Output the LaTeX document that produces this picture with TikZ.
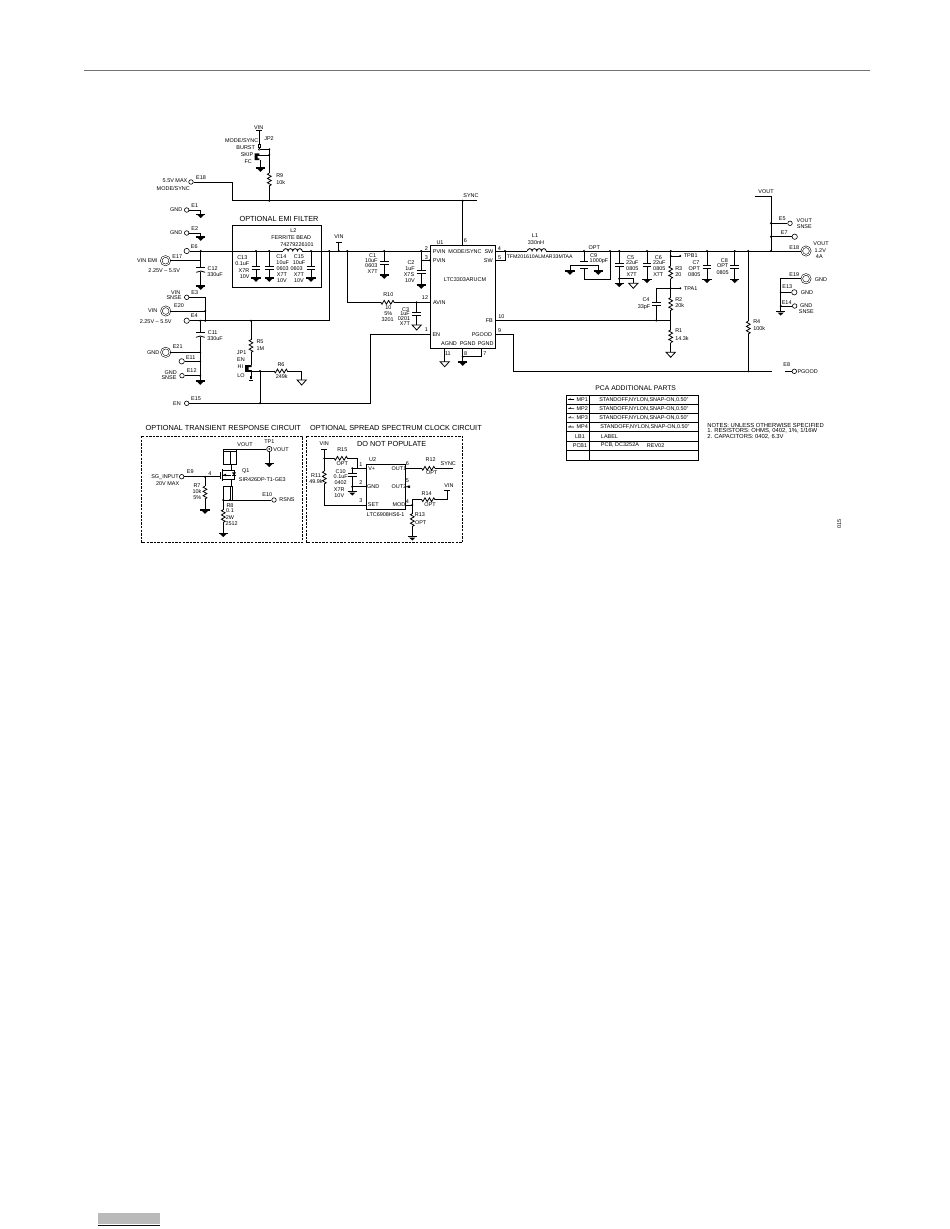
\documentclass[tikz,border=0pt]{standalone}
\usepackage{fontspec}
\setmainfont{Liberation Sans}
\tikzset{
  wire/.style={line width=0.6pt},
  lab/.style={inner sep=0pt,font=\fontsize{4.1}{4.6}\selectfont},
  labl/.style={lab,anchor=west},
  notel/.style={inner sep=0pt,anchor=west,font=\fontsize{4.4}{4.8}\selectfont},
  ttl/.style={inner sep=0pt,font=\fontsize{5.5}{6}\selectfont},
  ttlb/.style={inner sep=0pt,font=\fontsize{5.1}{6}\selectfont},
  term/.style={circle,draw,fill=white,line width=0.45pt,inner sep=0pt,minimum size=3.4pt},
  hterm/.style={term,minimum size=4pt,path picture={\fill (path picture bounding box.center) circle [radius=1.1];}},
  bterm/.style={circle,draw,fill=white,line width=0.4pt,double,double distance=0.75pt,inner sep=0pt,minimum size=6.4pt},
  dbox/.style={dash pattern=on 1.8pt off 0.9pt,line width=0.55pt},
  pics/resv/.style={code={
    \fill[white] (-2.5,-6.4) rectangle (2.5,6.4);
    \draw[wire] (0,-6.4) -- (1.9,-5.3) -- (-1.9,-3.2) -- (1.9,-1.1) -- (-1.9,1.1) -- (1.9,3.2) -- (-1.9,5.3) -- (0,6.4);}},
  pics/resh/.style={code={
    \fill[white] (-6.6,-2.5) rectangle (6.6,2.5);
    \draw[wire] (-6.6,0) -- (-5.5,-1.9) -- (-3.3,1.9) -- (-1.1,-1.9) -- (1.1,1.9) -- (3.3,-1.9) -- (5.5,1.9) -- (6.6,0);}},
  pics/capv/.style={code={
    \fill[white] (-4.4,-1.5) rectangle (4.4,1.5);
    \draw[wire,line width=0.7pt] (-4.4,-1.5) -- (4.4,-1.5) (-4.4,1.5) -- (4.4,1.5);}},
  pics/capp/.style={code={
    \fill[white] (-4.4,-2) rectangle (4.4,2);
    \draw[wire] (-4.4,2) -- (4.4,2);
    \draw[wire] (-4.4,-2.6) .. controls (-1.5,-0.9) and (1.5,-0.9) .. (4.4,-2.6);}},
  pics/indh/.style={code={
    \fill[white] (-9.4,3) rectangle (9.4,-0.8);
    \draw[wire] (-9.4,0) arc (180:0:2.35) arc (180:0:2.35) arc (180:0:2.35) arc (180:0:2.35);}},
  pics/gndb/.style={code={
    \draw[line width=0.8pt] (-4.6,0) -- (4.6,0);
    \fill (-3.1,-0.8) -- (3.1,-0.8) -- (0,-3.8) -- cycle;}},
  pics/gndo/.style={code={
    \draw[wire] (-4.6,0) -- (4.6,0) -- (0,-5) -- cycle;}},
  pics/tbar/.style={code={
    \draw[wire] (-3,0) -- (3,0);}},
}
\begin{document}
\begin{tikzpicture}[x=0.75pt,y=0.75pt,yscale=-1,xscale=1]
\useasboundingbox (0,0) rectangle (950,1229);

% page rule and footer
\coordinate (ruleA) at (84,70);
\coordinate (ruleB) at (870,70);
\draw [color=black!55,line width=0.7pt] (ruleA) -- (ruleB);
\fill [color=black!27] (97.7,1212.7) rectangle (160,1224.3);
\draw [color=blue!45!black,line width=0.6pt] (97.7,1225) -- (160,1225);

% terminals
\node [term] (E1) at (186.7,210) {};
\node [term] (E2) at (186.7,233) {};
\node [hterm] (E6) at (186.7,251) {};
\node [bterm] (E17) at (165.5,260.7) {};
\node [term] (E3) at (186.7,297.3) {};
\node [bterm] (E20) at (165.7,311) {};
\node [hterm] (E4) at (186.7,320.7) {};
\node [bterm] (E21) at (165.7,352.3) {};
\node [hterm] (E11) at (181.7,361.3) {};
\node [term] (E12) at (182,375.7) {};
\node [term] (E15) at (186.7,403.3) {};
\node [term] (E18a) at (191,182) {};
\node [term] (E5) at (790,223.3) {};
\node [hterm] (E7) at (794.7,236.7) {};
\node [bterm] (E18) at (806,251) {};
\node [bterm] (E19) at (806,278.7) {};
\node [hterm] (E13) at (794.3,292.3) {};
\node [term] (E14) at (794.7,306) {};
\node [term] (E8) at (794.3,371.3) {};
\node [term] (E9) at (181.7,476.7) {};
\node [term] (E10) at (274,500) {};
\node [hterm] (TP1) at (269.3,449) {};
\node [draw,line width=0.7pt,inner sep=0pt,minimum width=48.75pt,minimum height=77pt] (U1) at (462.5,297) {};
\node [draw,line width=0.7pt,inner sep=0pt,minimum width=29.2pt,minimum height=33.8pt] (U2) at (386.2,486.8) {};

% mode jumper
\coordinate (vinTop) at (259.3,130.7);
\coordinate (jpTwo) at (259.3,149.3);
\coordinate (jpEnd) at (269.3,149.3);
\coordinate (jpSkip) at (256,155);
\coordinate (jpSkipR) at (269.3,155);
\coordinate (jpGa) at (260.5,160);
\coordinate (jpGb) at (260.5,168);
\coordinate (syncLeft) at (269.3,200.7);
\coordinate (syncMid) at (232.3,200.7);
\coordinate (syncTap) at (462.7,200.7);
\coordinate (syncEnd) at (476.7,200.7);
\coordinate (u1p6) at (462.7,245.7);
\draw [wire] (vinTop) -- (jpTwo) -- (jpEnd) -- (syncLeft) (jpSkip) -- (jpSkipR) (jpGa) -- (jpGb);
\draw [wire] (E18a) -| (syncMid) -- (syncEnd) (syncTap) -- (u1p6);
\draw [fill=white,line width=0.4pt] (258.5,144) rectangle (260.5,147.4);
\fill (254.5,153.3) rectangle (257.6,160.2) (256,153.3) rectangle (259.4,155.2) (256,158.3) rectangle (259.4,160.2);
\pic at (vinTop) {tbar};
\pic at (jpGb) {gndb};
\pic at (269.3,179.5) {resv};

% input rails
\coordinate (u1p2) at (430,251);
\coordinate (u1p3) at (430,260.3);
\coordinate (u1p12) at (430,302.3);
\coordinate (u1p1) at (430,334.7);
\coordinate (railDrop) at (329.3,251);
\coordinate (railDropB) at (329.3,320.7);
\coordinate (teeRail) at (338.7,251);
\coordinate (teeTop) at (338.7,242.3);
\coordinate (avinRail) at (347.3,251);
\coordinate (avinBend) at (347.3,302.3);
\coordinate (e3Bend) at (205.3,297.3);
\coordinate (e3End) at (205.3,320.7);
\coordinate (e20End) at (205.3,311);
\coordinate (c11Top) at (200.3,320.7);
\coordinate (c11Bot) at (200.3,381);
\coordinate (c12Top) at (200.7,251);
\coordinate (c12Bot) at (200.7,286);
\coordinate (e17End) at (200.7,260.7);
\coordinate (e21End) at (200.3,352.3);
\coordinate (e11End) at (200.3,361.3);
\coordinate (e12End) at (200.3,375.7);
\coordinate (gndEa) at (200.7,214.3);
\coordinate (gndEb) at (200.7,237);
\draw [wire] (E6) -- (u1p2) (u1p3) -- (421.3,260.3);
\draw [wire] (E1) -| (gndEa) (E2) -| (gndEb);
\draw [wire] (E17) -- (e17End) (c12Top) -- (c12Bot);
\draw [wire] (E4) -- (railDropB) -- (railDrop) (teeRail) -- (teeTop);
\draw [wire] (avinRail) -- (avinBend) -- (u1p12);
\draw [wire] (E3) -- (e3Bend) -- (e3End) (E20) -- (e20End);
\draw [wire] (c11Top) -- (c11Bot) (E21) -- (e21End) (E11) -- (e11End) (E12) -- (e12End);
\pic at (gndEa) {gndb};
\pic at (gndEb) {gndb};
\pic at (c12Bot) {gndb};
\pic at (c11Bot) {gndb};
\pic at (teeTop) {tbar};
\pic at (200.7,269.7) {capp};
\pic at (200.3,334.7) {capp};

% emi filter
\draw [wire,line width=0.65pt] (232.3,225.3) rectangle (321.7,287.3);
\foreach \capx in {256,269.3,311} {
  \draw [wire] (\capx,251) -- (\capx,278);
  \pic at (\capx,267.5) {capv};
  \pic at (\capx,278) {gndb};
}
\pic at (292.8,251) {indh};

% en jumper
\coordinate (r5Top) at (251,320.7);
\coordinate (r5Bot) at (251,365);
\coordinate (enTap) at (260,371);
\coordinate (enLow) at (260,403.3);
\coordinate (enBend) at (370,403.3);
\coordinate (enUp) at (370,334.7);
\coordinate (r6Out) at (301.7,371);
\coordinate (r6Gnd) at (301.7,380);
\coordinate (jpEn) at (251,371);
\coordinate (jpLo) at (251,378);
\draw [wire] (r5Top) -- (r5Bot) (jpEn) -- (r6Out) -- (r6Gnd) (jpEn) -- (jpLo);
\draw [wire] (enTap) -- (enLow) (E15) -- (enBend) -- (enUp) -- (u1p1);
\fill (245,365.2) rectangle (248.6,371.8) (247,365.2) rectangle (251.6,367) (247,370) rectangle (251.6,371.8);
\fill (250,376.2) rectangle (252,378.6);
\pic at (251,346) {resv};
\pic at (280.8,371) {resh};
\pic at (r6Gnd) {gndo};
\draw [line width=0.7pt] (249,380.8) -- (253,380.8);

% regulator input side
\coordinate (c1Top) at (384.3,251);
\coordinate (c1Bot) at (384.3,275);
\coordinate (c2Top) at (421.3,251);
\coordinate (c2Bot) at (421.3,285);
\coordinate (c3Top) at (416.7,302.3);
\coordinate (c3Bot) at (416.7,325);
\coordinate (u1p11) at (444.7,348.3);
\coordinate (agndEnd) at (444.7,361.7);
\coordinate (u1p8) at (462.7,348.3);
\coordinate (pgndEnd) at (462.7,362);
\coordinate (u1p7) at (481.7,348.3);
\coordinate (pgndTie) at (481.7,356.7);
\coordinate (pgndTieL) at (462.7,356.7);
\draw [wire] (c1Top) -- (c1Bot) (c2Top) -- (c2Bot) (c3Top) -- (c3Bot);
\draw [wire] (u1p11) -- (agndEnd) (u1p8) -- (pgndEnd) (u1p7) -- (pgndTie) -- (pgndTieL);
\pic at (384.3,263) {capv};
\pic at (421.3,272.3) {capv};
\pic at (416.7,313.5) {capv};
\pic at (387.5,302.3) {resh};
\pic at (c1Bot) {gndb};
\pic at (c2Bot) {gndb};
\pic at (c3Bot) {gndo};
\pic at (agndEnd) {gndo};
\pic at (pgndEnd) {gndb};

% output side
\coordinate (u1p4) at (495,251);
\coordinate (u1p5) at (495,260.3);
\coordinate (swTie) at (505,251);
\coordinate (swTieB) at (505,260.3);
\coordinate (u1p10) at (495,320.5);
\coordinate (u1p9) at (495,334.7);
\coordinate (pgBend) at (513.3,334.7);
\coordinate (pgLow) at (513.3,371.3);
\coordinate (pgEnd) at (771.7,371.3);
\coordinate (e8Stub) at (785,371.3);
\draw [wire] (u1p4) -- (E18) (u1p5) -- (swTieB) -- (swTie);
\draw [wire] (u1p10) -- (670.7,320.5) (u1p9) -- (pgBend) -- (pgLow) -- (pgEnd) (e8Stub) -- (E8);
\pic at (536.8,251) {indh};
% three terminal cap
\coordinate (c9Top) at (584,251);
\coordinate (c9Up) at (584,261);
\coordinate (c9Dn) at (584,268.3);
\coordinate (c9Low) at (584,279);
\coordinate (c9Right) at (610,279);
\coordinate (c9Ret) at (610,251);
\coordinate (c9La) at (570,265.3);
\coordinate (c9Lb) at (570,271);
\coordinate (c9Ra) at (598.3,265.3);
\coordinate (c9Rb) at (598.3,271);
\draw [wire] (c9Top) -- (c9Up) (c9Dn) -- (c9Low) -- (c9Right) -- (c9Ret);
\draw [wire] (c9Lb) -- (c9La) -- (c9Ra) -- (c9Rb);
\draw [wire,line width=0.7pt] (579.7,261) -- (588.3,261) (579.7,268.3) -- (588.3,268.3);
\pic at (c9Lb) {gndb};
\pic at (c9Rb) {gndb};
% bulk caps
\coordinate (c5Top) at (619.3,251);
\coordinate (c5Bot) at (619.3,283.3);
\coordinate (c5Tap) at (619.3,278.7);
\coordinate (c5Bend) at (633.3,278.7);
\coordinate (c5Gnd) at (633.3,283.3);
\draw [wire] (c5Top) -- (c5Bot) (c5Tap) -- (c5Bend) -- (c5Gnd);
\pic at (619.3,264.5) {capv};
\pic at (c5Bot) {gndb};
\pic at (c5Gnd) {gndo};
\foreach \capx/\capy in {647/264.5,707/267.3,734.7/267.3} {
  \draw [wire] (\capx,251) -- (\capx,279.3);
  \pic at (\capx,\capy) {capv};
  \pic at (\capx,279.3) {gndb};
}
% feedback ladder
\coordinate (fbTop) at (670.7,251);
\coordinate (fbBot) at (670.7,352.3);
\coordinate (tpbA) at (670.7,256);
\coordinate (tpaA) at (670.7,288.3);
\coordinate (tpbB) at (680.3,256);
\coordinate (tpaB) at (680.3,288.3);
\coordinate (c4Top) at (656.3,288.3);
\coordinate (c4Bot) at (656.3,320.5);
\draw [wire] (fbTop) -- (fbBot) (tpbA) -- (tpbB) (tpaA) -- (tpaB) (tpaA) -- (c4Top) -- (c4Bot);
\pic at (670.7,272.3) {resv};
\pic at (670.7,304) {resv};
\pic at (670.7,336.3) {resv};
\pic at (656.3,304.3) {capv};
\pic at (fbBot) {gndo};
\coordinate (r4Top) at (748.3,251);
\draw [wire] (r4Top) -- (748.3,371.3);
\pic at (748.3,327.5) {resv};
% vout side
\coordinate (voutEnd) at (754.7,196.7);
\coordinate (voutBend) at (771,196.7);
\coordinate (voutRail) at (771,251);
\coordinate (gndBusT) at (780.7,278.7);
\coordinate (gndBusB) at (780.7,311.7);
\coordinate (e5Tap) at (771,223.3);
\coordinate (e7Tap) at (771,236.7);
\coordinate (e13Tap) at (780.7,292.3);
\coordinate (e14Tap) at (780.7,306);
\draw [wire] (voutEnd) -- (voutBend) -- (voutRail) (e5Tap) -- (E5) (e7Tap) -- (E7);
\draw [wire] (E19) -- (gndBusT) -- (gndBusB) (e13Tap) -- (E13) (e14Tap) -- (E14);
\pic at (gndBusB) {gndb};

% transient circuit
\draw [dbox] (141.7,436) rectangle (302.7,542.7);
\coordinate (voutTrA) at (223.3,449);
\coordinate (tpGnd) at (269.3,463.3);
\coordinate (gateTap) at (205,476.7);
\coordinate (gateEnd) at (220.3,476.7);
\coordinate (r7Gnd) at (205,510);
\coordinate (srcA) at (231,470);
\coordinate (srcB) at (231,479.3);
\coordinate (rsA) at (230,500);
\coordinate (r8Top) at (223.3,500);
\coordinate (r8Gnd) at (223.3,533.3);
\draw [wire] (voutTrA) -- (TP1) -- (tpGnd) (E9) -- (gateEnd) (gateTap) -- (r7Gnd);
\draw [wire] (r8Top) -- (E10) (r8Top) -- (r8Gnd);
\draw [wire] (223.3,449) -- (223.3,451.7) (236.7,449) -- (236.7,451.7);
\draw [line width=0.45pt] (223.3,451.7) rectangle (236.7,464.3) (230,451.7) -- (230,464.3);
\draw [wire] (231,464.3) -- (srcA) -- (222.3,470) (222.3,479.3) -- (srcB) -- (231,486);
\draw [line width=0.8pt] (220.3,472) -- (220.3,479.3) (222.3,469) -- (222.3,480.5);
\draw [wire] (231,470) -- (234,470) -- (234,479.3) -- (231,479.3);
\fill (234,475.5) -- (232,472.3) -- (236,472.3) -- cycle;
\draw [line width=0.4pt] (232,475.5) -- (236,475.5);
\fill (223,475) -- (226,473.7) -- (226,476.3) -- cycle;
\draw [line width=0.45pt] (223,475) -- (231,475);
\draw [line width=0.45pt] (223.3,486) rectangle (232.7,500) (230,486) -- (230,500);
\pic at (205,492.5) {resv};
\pic at (223.3,516) {resv};
\pic at (tpGnd) {gndb};
\pic at (r7Gnd) {gndb};
\pic at (r8Gnd) {gndb};

% spread spectrum circuit
\draw [dbox] (306.7,436) rectangle (462.3,542.7);
\coordinate (vinSsA) at (324.3,449);
\coordinate (vinSsB) at (324.3,505);
\coordinate (r15L) at (324.3,458.3);
\coordinate (r15R) at (357.3,458.3);
\coordinate (u2p1) at (366.7,468.3);
\coordinate (u2p2) at (366.7,486.7);
\coordinate (u2p3) at (366.7,505);
\coordinate (c10Top) at (352.3,468.3);
\coordinate (c10Bot) at (352.3,491.7);
\coordinate (c10Tap) at (352.3,486.7);
\coordinate (u2p6) at (405.7,468.3);
\coordinate (u2p5) at (405.7,486.7);
\coordinate (u2p4) at (405.7,505);
\coordinate (syncSs) at (453.3,468.3);
\coordinate (modA) at (412.3,505);
\coordinate (modB) at (412.3,499.7);
\coordinate (modC) at (447.3,499.7);
\coordinate (modD) at (447.3,490.7);
\coordinate (r13Gnd) at (412.3,536.7);
\draw [wire] (vinSsA) -- (vinSsB) -- (u2p3) (r15L) -- (r15R) -- (357.3,468.3) (c10Top) -- (u2p1);
\draw [wire] (c10Top) -- (c10Bot) (c10Tap) -- (u2p2);
\draw [wire] (u2p6) -- (syncSs) (u2p4) -- (modA) -- (modB) -- (modC) -- (modD) (modA) -- (r13Gnd);
\draw [wire] (u2p5) -- (409,486.7) (408,485.7) -- (410,487.7) (408,487.7) -- (410,485.7);
\pic at (vinSsA) {tbar};
\pic at (modD) {tbar};
\pic at (340.8,458.3) {resh};
\pic at (324.3,477.5) {resv};
\pic at (352.3,475) {capv};
\pic at (428.3,468.3) {resh};
\pic at (428.3,499.7) {resh};
\pic at (412.3,520) {resv};
\pic at (c10Bot) {gndb};
\pic at (r13Gnd) {gndb};

% junction dots
\foreach \jn in {c12Top,railDrop,teeRail,avinRail,c1Top,c2Top,c3Top,syncTap,jpEnd,jpSkipR,syncLeft,
  e3End,e20End,c11Top,e21End,e11End,e12End,r5Top,enTap,enLow,swTie,c9Top,c9Ret,c5Top,fbTop,tpbA,tpaA,c4Bot,
  r4Top,voutRail,e5Tap,e7Tap,e13Tap,e14Tap,c5Tap,gateTap,r15L,c10Top,c10Tap,modA,pgndTieL,rsA,tpbB,tpaB,u1p3,
  r8Top} {
  \fill (\jn) circle [radius=1.1];
}
\fill (256,251) circle [radius=1.1] (269.3,251) circle [radius=1.1] (311,251) circle [radius=1.1];
\fill (647,251) circle [radius=1.1] (707,251) circle [radius=1.1] (734.7,251) circle [radius=1.1];
\fill (748.3,371.3) circle [radius=1.1] (jpEn) circle [radius=1.1] (TP1) circle [radius=0.9];
\draw [wire,fill=white,line width=0.35pt] (jpTwo) circle [radius=1];

% text of top left
\node [lab] (tVinA) at (258.7,127.4) {VIN};
\node [lab] (tJp2) at (269,139) {JP2};
\node [lab] (tModeA) at (241.7,140.7) {MODE/SYNC};
\node [lab] (tBurst) at (245.7,147.3) {BURST};
\node [lab] (tSkip) at (247,154.3) {SKIP};
\node [lab] (tFc) at (248.3,161.3) {FC};
\node [labl] (tR9) at (276,175.7) {R9};
\node [labl] (tR9v) at (276,183) {10k};
\node [lab] (tMax) at (175,181) {5.5V MAX};
\node [lab] (tModeB) at (173.3,188.3) {MODE/SYNC};
\node [lab] (tE18a) at (201,177.7) {E18};
\node [lab] (tGndA) at (176.3,210) {GND};
\node [lab] (tE1) at (194.7,205.7) {E1};
\node [lab] (tGndB) at (176.3,233) {GND};
\node [lab] (tE2) at (194.7,229) {E2};
\node [lab] (tE6) at (194.3,247) {E6};
\node [lab] (tVinEmi) at (147.3,260.7) {VIN EMI};
\node [lab] (tE17) at (177.3,256.7) {E17};
\node [lab] (tRangeA) at (164.3,271) {2.25V – 5.5V};
\node [lab] (tC12) at (212.7,268.3) {C12};
\node [lab] (tC12v) at (215,274.7) {330uF};
\node [lab] (tVinB) at (175.7,292.3) {VIN};
\node [lab] (tSnseA) at (174,297.3) {SNSE};
\node [lab] (tE3) at (194.7,292.7) {E3};
\node [lab] (tVinC) at (152.7,311) {VIN};
\node [lab] (tE20) at (179,306) {E20};
\node [lab] (tE4) at (194.3,315.7) {E4};
\node [lab] (tRangeB) at (155.7,322) {2.25V – 5.5V};
\node [lab] (tC11) at (212.7,332.7) {C11};
\node [lab] (tC11v) at (215,339) {330uF};
\node [lab] (tGndC) at (153.3,352.3) {GND};
\node [lab] (tE21) at (177.7,346.7) {E21};
\node [lab] (tE11) at (190.7,357.7) {E11};
\node [lab] (tGndD) at (170.7,372.3) {GND};
\node [lab] (tSnseB) at (169,377.7) {SNSE};
\node [lab] (tE12) at (191.7,370.7) {E12};
\node [lab] (tEnA) at (177,403.3) {EN};
\node [lab] (tE15) at (196,399) {E15};
\node [lab] (tR5) at (260,341.7) {R5};
\node [lab] (tR5v) at (260.3,349) {1M};
\node [lab] (tJp1) at (241.7,353) {JP1};
\node [lab] (tEnB) at (241,359.3) {EN};
\node [lab] (tHi) at (240.3,367) {HI};
\node [lab] (tLo) at (241,375.7) {LO};
\node [lab] (tR6) at (281,364.7) {R6};
\node [lab] (tR6v) at (281.7,377) {249k};

% emi filter text
\node [ttl] (tEmi) at (279,219) {OPTIONAL EMI FILTER};
\node [lab] (tL2) at (293.3,230.7) {L2};
\node [lab] (tBead) at (291.3,237.7) {FERRITE BEAD};
\node [lab] (tBeadN) at (297,244.7) {74279226101};
\node [lab] (tC13) at (242.3,257.3) {C13};
\node [lab] (tC13v) at (242.3,263.3) {0.1uF};
\node [lab] (tC13t) at (244,270.7) {X7R};
\node [lab] (tC13u) at (244.7,276.7) {10V};
\node [lab] (tC14) at (281.3,256.7) {C14};
\node [lab] (tC14v) at (282.7,262.7) {10uF};
\node [lab] (tC14s) at (282.7,269) {0603};
\node [lab] (tC14t) at (282,274.7) {X7T};
\node [lab] (tC14u) at (282,280.3) {10V};
\node [lab] (tC15) at (299,256.3) {C15};
\node [lab] (tC15v) at (299,262.3) {10uF};
\node [lab] (tC15s) at (296.7,269) {0603};
\node [lab] (tC15t) at (299,274.7) {X7T};
\node [lab] (tC15u) at (299,280.3) {10V};
\node [lab] (tVinD) at (339,237) {VIN};

% regulator text
\node [lab] (tSyncA) at (471,195.3) {SYNC};
\node [lab] (tU1) at (440,243) {U1};
\node [lab] (tP6) at (465.3,240.3) {6};
\node [lab] (tP2) at (426.3,248.3) {2};
\node [lab] (tP3) at (426.3,257.3) {3};
\node [lab] (tPvinA) at (439.3,252) {PVIN};
\node [lab] (tPvinB) at (439.3,261) {PVIN};
\node [lab] (tModeC) at (465,252) {MODE/SYNC};
\node [lab] (tSwA) at (489,252) {SW};
\node [lab] (tSwB) at (488.3,261) {SW};
\node [lab] (tPart) at (465,280) {LTC3303ARUCM};
\node [lab] (tP12) at (425,297.3) {12};
\node [lab] (tAvin) at (439.3,302.3) {AVIN};
\node [lab] (tFb) at (489.3,320.7) {FB};
\node [lab] (tP10) at (501.3,317) {10};
\node [lab] (tP1) at (426.3,330) {1};
\node [lab] (tEnC) at (436.3,334.7) {EN};
\node [lab] (tPgood) at (482,334.7) {PGOOD};
\node [lab] (tP9) at (499.7,330.3) {9};
\node [lab] (tAgnd) at (449,343.7) {AGND};
\node [lab] (tPgndA) at (467.7,343.7) {PGND};
\node [lab] (tPgndB) at (485.7,343.7) {PGND};
\node [lab] (tP11) at (447.9,354) {11};
\node [lab] (tP8) at (465.7,353.3) {8};
\node [lab] (tP7) at (485,354) {7};
\node [lab] (tP4) at (499.3,248.3) {4};
\node [lab] (tP5) at (499.7,257.3) {5};
\node [lab] (tC1) at (372.7,256) {C1};
\node [lab] (tC1v) at (371.3,261) {10uF};
\node [lab] (tC1s) at (371.3,266) {0603};
\node [lab] (tC1t) at (372.7,271.7) {X7T};
\node [lab] (tC2) at (411,262.7) {C2};
\node [lab] (tC2v) at (410,268.7) {1uF};
\node [lab] (tC2t) at (409,275) {X7S};
\node [lab] (tC2u) at (410,281) {10V};
\node [lab] (tR10) at (388.3,294.7) {R10};
\node [lab] (tR10v) at (388.3,308) {10};
\node [lab] (tR10p) at (388.3,313.7) {5\%};
\node [lab] (tR10s) at (387.7,320) {3201};
\node [lab] (tC3) at (405.7,309.3) {C3};
\node [lab] (tC3v) at (405,314) {1uF};
\node [lab] (tC3s) at (404,319) {0201};
\node [lab] (tC3t) at (405,324) {X7T};

% output text
\node [lab] (tL1) at (535,235.7) {L1};
\node [lab] (tL1v) at (536,243) {330nH};
\node [lab,font=\fontsize{3.9}{4.6}\selectfont] (tL1p) at (539.7,257) {TFM201610ALMAR33MTAA};
\node [lab] (tOpt) at (594.3,248) {OPT};
\node [lab] (tC9) at (593.7,255.7) {C9};
\node [lab] (tC9v) at (599,261) {1000pF};
\node [lab] (tC5) at (630.7,257.7) {C5};
\node [lab] (tC5v) at (632.3,262.7) {22uF};
\node [lab] (tC5s) at (632.3,269) {0805};
\node [lab] (tC5t) at (631.7,274.7) {X7T};
\node [lab] (tC6) at (658.3,257.7) {C6};
\node [lab] (tC6v) at (659.3,262.7) {22uF};
\node [lab] (tC6s) at (659.3,269) {0805};
\node [lab] (tC6t) at (658.3,274.7) {X7T};
\node [lab] (tTpb) at (690.7,256) {TPB1};
\node [lab] (tTpa) at (690.7,288.7) {TPA1};
\node [labl] (tR3) at (675,268.3) {R3};
\node [labl] (tR3v) at (675,275) {20};
\node [labl] (tR2) at (675,299.7) {R2};
\node [labl] (tR2v) at (675,305.3) {20k};
\node [labl] (tR1) at (675,330.7) {R1};
\node [labl] (tR1v) at (675,338.3) {14.3k};
\node [lab] (tC4) at (646,299.3) {C4};
\node [lab] (tC4v) at (644,307) {33pF};
\node [lab] (tC7) at (696,262.7) {C7};
\node [lab] (tC7v) at (694.3,268.3) {OPT};
\node [lab] (tC7s) at (694.3,274.3) {0805};
\node [lab] (tC8) at (724.3,260.7) {C8};
\node [lab] (tC8v) at (722.7,266) {OPT};
\node [lab] (tC8s) at (722.7,272.7) {0805};
\node [labl] (tR4) at (753,321.3) {R4};
\node [labl] (tR4v) at (753,329) {100k};
\node [lab] (tVoutA) at (766,191.7) {VOUT};
\node [lab] (tE5) at (782.3,219) {E5};
\node [lab] (tVoutB) at (804.3,220.7) {VOUT};
\node [lab] (tSnseC) at (804.3,226.7) {SNSE};
\node [lab] (tE7) at (784.3,232.3) {E7};
\node [lab] (tE18) at (794.3,247.7) {E18};
\node [lab] (tVoutC) at (821,244) {VOUT};
\node [lab] (tV12) at (820.3,250.7) {1.2V};
\node [lab] (tAmps) at (819.3,256.7) {4A};
\node [lab] (tE19) at (794.3,275) {E19};
\node [lab] (tGndE) at (821,279.3) {GND};
\node [lab] (tE13) at (787.3,286.7) {E13};
\node [lab] (tGndF) at (807,292.3) {GND};
\node [lab] (tE14) at (786.7,302.3) {E14};
\node [lab] (tGndG) at (806.3,306) {GND};
\node [lab] (tSnseD) at (806.3,311.7) {SNSE};
\node [lab] (tE8) at (786.7,365) {E8};
\node [lab] (tPgoodB) at (807.7,371.3) {PGOOD};

% transient text
\node [ttl] (tTrans) at (223.3,428) {OPTIONAL TRANSIENT RESPONSE CIRCUIT};
\node [lab] (tVoutD) at (245,444.7) {VOUT};
\node [lab] (tTp1) at (269.3,442) {TP1};
\node [lab] (tVoutE) at (281,449.3) {VOUT};
\node [lab] (tQ1) at (245.7,470.7) {Q1};
\node [lab] (tQ1p) at (262.3,480) {SIR426DP-T1-GE3};
\node [lab] (tSg) at (165,476.7) {SG\_INPUT};
\node [lab] (tSgv) at (167.7,483.7) {20V MAX};
\node [lab] (tE9) at (190.3,471.7) {E9};
\node [lab] (tPin4) at (210,473.3) {4};
\node [lab] (tR7) at (197,485.7) {R7};
\node [lab] (tR7v) at (197,491.7) {10k};
\node [lab] (tR7p) at (197.3,497.7) {5\%};
\node [lab] (tE10) at (267.3,495) {E10};
\node [lab] (tRsns) at (287,500) {RSNS};
\node [lab] (tR8) at (230,506) {R8};
\node [lab] (tR8v) at (230,511) {0.1};
\node [lab] (tR8w) at (230,517.3) {2W};
\node [lab] (tR8s) at (231.7,523.7) {2512};

% spread spectrum text
\node [ttl] (tSpread) at (396,428) {OPTIONAL SPREAD SPECTRUM CLOCK CIRCUIT};
\node [ttl] (tDnp) at (391.7,444) {DO NOT POPULATE};
\node [lab] (tVinE) at (324.3,444) {VIN};
\node [lab] (tR15) at (342.3,450) {R15};
\node [lab] (tR15v) at (342.3,464) {OPT};
\node [lab] (tR11) at (316,476) {R11};
\node [lab] (tR11v) at (316,481.7) {49.9k};
\node [lab] (tC10) at (340.7,471.7) {C10};
\node [lab] (tC10v) at (340.7,477) {0.1uF};
\node [lab] (tC10s) at (340.7,482.7) {0402};
\node [lab] (tC10t) at (339.3,489.3) {X7R};
\node [lab] (tC10u) at (339.3,495.7) {10V};
\node [lab] (tU2) at (372.7,460) {U2};
\node [lab] (tU2a) at (361,465) {1};
\node [lab] (tU2b) at (361,482.7) {2};
\node [lab] (tU2c) at (361,501) {3};
\node [lab] (tVplus) at (371.7,468.3) {V+};
\node [lab] (tGndH) at (373.3,486.7) {GND};
\node [lab] (tSet) at (373.3,505) {SET};
\node [lab] (tOut1) at (399,468.3) {OUT1};
\node [lab] (tOut2) at (399,486.7) {OUT2};
\node [lab] (tMod) at (399,505) {MOD};
\node [lab] (tU2p) at (385.7,514.3) {LTC6908HS6-1};
\node [lab] (tU2f) at (407.3,464) {6};
\node [lab] (tU2e) at (407.3,481) {5};
\node [lab] (tU2d) at (407.3,501.7) {4};
\node [lab] (tR12) at (430.7,460) {R12};
\node [lab] (tR12v) at (431.7,472.7) {OPT};
\node [lab] (tSyncB) at (448.3,463.3) {SYNC};
\node [lab] (tVinF) at (449,485.7) {VIN};
\node [lab] (tR14) at (426.7,493.3) {R14};
\node [lab] (tR14v) at (430,505) {OPT};
\node [lab] (tR13) at (420,514.7) {R13};
\node [lab] (tR13v) at (420.7,523) {OPT};

% parts table
\node [ttlb] (tPca) at (635.7,388.3) {PCA ADDITIONAL PARTS};
\draw [line width=0.7pt] (566,395) rectangle (698.3,460.7) (589.3,395) -- (589.3,460.7);
\foreach \rowy in {404,413.3,422.3,431.7,441,450.7} {
  \draw [line width=0.7pt] (566,\rowy) -- (698.3,\rowy);
}
\foreach \rowy in {399.5,408.7,417.8,427} {
  \draw [line width=0.4pt] (568,\rowy) -- (574,\rowy) (569.5,\rowy) -- (570.5,\rowy-1.5);
}
\node [lab] (tMp1) at (582.3,399.7) {MP1};
\node [lab] (tMp2) at (582.3,408.7) {MP2};
\node [lab] (tMp3) at (582.3,418) {MP3};
\node [lab] (tMp4) at (582.3,427) {MP4};
\node [lab] (tLb1) at (580,436.3) {LB1};
\node [lab] (tPcb1) at (580,446) {PCB1};
\node [labl] (tRow1) at (599,399.7) {STANDOFF,NYLON,SNAP-ON,0.50"};
\node [labl] (tRow2) at (599,408.7) {STANDOFF,NYLON,SNAP-ON,0.50"};
\node [labl] (tRow3) at (599,418) {STANDOFF,NYLON,SNAP-ON,0.50"};
\node [labl] (tRow4) at (600,427) {STANDOFF,NYLON,SNAP-ON,0.50"};
\node [labl] (tRow5) at (600.7,436.3) {LABEL};
\node [labl] (tRow6) at (600.7,445.3) {PCB, DC3252A};
\node [labl] (tRow6b) at (646.7,445.3) {REV02};
\node [notel] (tNoteA) at (707,425) {NOTES: UNLESS OTHERWISE SPECIFIED};
\node [notel] (tNoteB) at (707,431) {1. RESISTORS: OHMS, 0402, 1\%, 1/16W};
\node [notel] (tNoteC) at (707,437) {2. CAPACITORS:  0402, 6.3V};
\node [lab,rotate=90] (tFig) at (839.3,524.3) {015};

\end{tikzpicture}
\end{document}
